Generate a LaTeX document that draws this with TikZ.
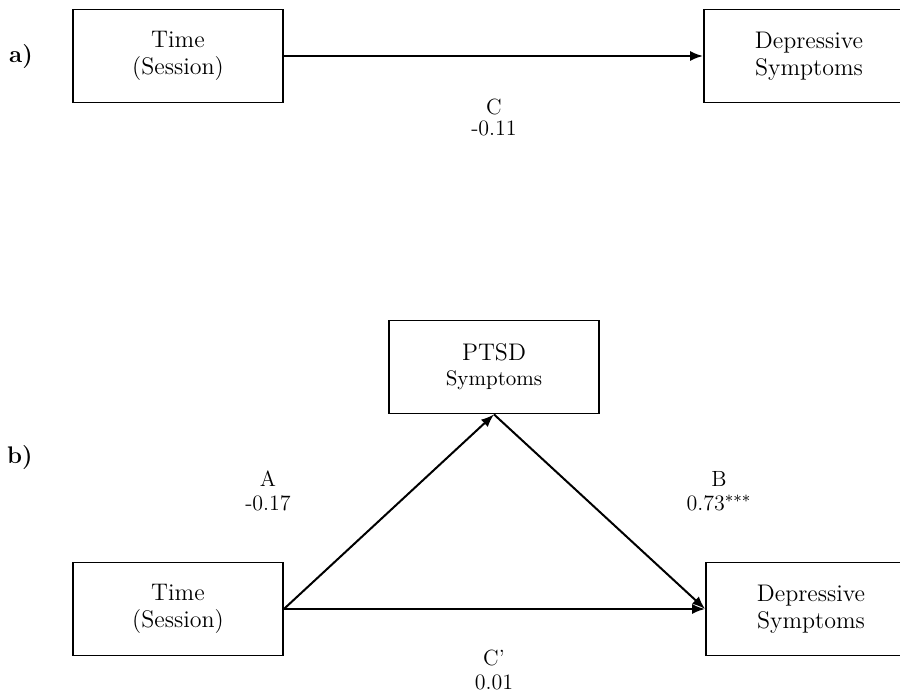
\documentclass[tikz,border=0pt]{standalone}
\usetikzlibrary{arrows.meta}
\begin{document}
\begin{tikzpicture}[
  x=0.5pt, y=-0.5pt,
  varbox/.style={draw, line width=0.9pt, minimum width=105pt, minimum height=46.5pt,
    align=center, inner sep=0pt, font=\fontsize{12}{13.5}\selectfont},
  coef/.style={align=center, inner sep=0pt, font=\fontsize{11}{12}\selectfont},
  panel/.style={inner sep=0pt, font=\fontsize{12}{14}\selectfont\bfseries},
  path/.style={line width=1pt, -{Latex[length=6.5pt,width=5pt]}}
]
\useasboundingbox (0,0) rectangle (900,691);

% Panel a: total effect
\node[panel] (la) at (21,57) {a)};
\node[varbox] (timeA) at (178,56) {Time\\(Session)};
\node[varbox] (depA) at (809,56) {Depressive\\Symptoms};
\draw[path] (timeA.east) -- (depA.west);
\node[coef, font=\fontsize{11}{10.5}\selectfont] (cA) at (494,117) {C\\-0.11};

% Panel b: mediation through PTSD symptoms
\node[panel] (lb) at (20,458) {b)};
\node[varbox] (ptsd) at (494,367) {PTSD\\[-1pt]{\fontsize{10.5}{12}\selectfont Symptoms}};
\node[varbox] (timeB) at (178,609) {Time\\(Session)};
\node[varbox] (depB) at (811,609) {Depressive\\Symptoms};
\draw[path] (timeB.east) -- (ptsd.south);
\draw[path] (ptsd.south) -- (depB.west);
\draw[path] (timeB.east) -- (depB.west);
\node[coef] (pA) at (268,491) {A\\-0.17};
\node[coef] (pB) at (719,491) {B\\0.73$^{***}$};
\node[coef] (pC) at (494,670) {C'\\0.01};
\end{tikzpicture}
\end{document}
